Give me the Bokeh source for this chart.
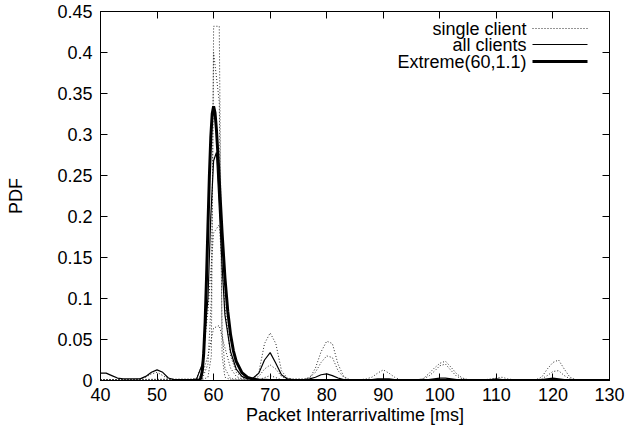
from bokeh.plotting import figure
from bokeh.models import (Range1d, FixedTicker, LinearAxis, Label, Arrow,
                          CustomJSTickFormatter)
from bokeh.embed import file_html
from bokeh.resources import INLINE

# ---- data -------------------------------------------------------------
# interarrival time grid [ms], one bin per millisecond
interarrival_ms = list(range(40, 131))

# per-client PDFs (drawn dotted); the two sharpest clients are given only
# at their break points
single_client_a_ms = [40, 58, 59, 59.6, 60, 61, 61.5, 62, 63, 130]
single_client_a = [0.001, 0.001, 0.004, 0.030, 0.432, 0.432, 0.030, 0.004,
                   0.001, 0.001]

single_client_b_ms = [40, 58, 59, 59.6, 60, 61, 61.5, 62, 63, 68, 70, 72, 130]
single_client_b = [0.001, 0.002, 0.020, 0.100, 0.400, 0.340, 0.060, 0.015,
                   0.002, 0.001, 0.006, 0.001, 0.001]

single_client_c = [
    0.001, 0.001, 0.001, 0.001, 0.001, 0.001, 0.001, 0.002, 0.004, 0.008,
    0.010, 0.006, 0.002, 0.001, 0.001, 0.001, 0.001, 0.003, 0.020, 0.085,
    0.180, 0.190, 0.090, 0.030, 0.010, 0.004, 0.002, 0.002, 0.005, 0.014,
    0.019, 0.014, 0.005, 0.002, 0.001, 0.001, 0.001, 0.003, 0.015, 0.035,
    0.048, 0.045, 0.020, 0.005, 0.001, 0.001, 0.001, 0.002, 0.004, 0.009,
    0.013, 0.009, 0.004, 0.001, 0.001, 0.001, 0.001, 0.002, 0.005, 0.011,
    0.018, 0.020, 0.012, 0.005, 0.002, 0.001, 0.001, 0.001, 0.001, 0.001,
    0.001, 0.001, 0.001, 0.001, 0.001, 0.001, 0.001, 0.001, 0.002, 0.006,
    0.011, 0.012, 0.006, 0.002, 0.001, 0.001, 0.001, 0.001, 0.001, 0.001,
    0.001,
]
single_client_d = [
    0.001, 0.001, 0.001, 0.001, 0.001, 0.001, 0.001, 0.001, 0.001, 0.001,
    0.001, 0.001, 0.001, 0.001, 0.001, 0.001, 0.001, 0.002, 0.007, 0.030,
    0.064, 0.067, 0.040, 0.015, 0.005, 0.002, 0.002, 0.003, 0.010, 0.045,
    0.058, 0.045, 0.012, 0.003, 0.002, 0.002, 0.002, 0.004, 0.010, 0.022,
    0.030, 0.028, 0.012, 0.004, 0.001, 0.001, 0.001, 0.001, 0.001, 0.001,
    0.001, 0.001, 0.001, 0.001, 0.001, 0.001, 0.001, 0.002, 0.008, 0.015,
    0.021, 0.0235, 0.016, 0.008, 0.003, 0.001, 0.001, 0.001, 0.001, 0.002,
    0.003, 0.004, 0.002, 0.001, 0.001, 0.001, 0.001, 0.001, 0.004, 0.014,
    0.022, 0.025, 0.014, 0.004, 0.001, 0.001, 0.001, 0.001, 0.001, 0.001,
    0.001,
]

# aggregate PDF over all clients (thin solid), half-ms bins around 60 ms
all_clients_ms = (list(range(40, 59)) + [59, 59.5, 60, 60.5, 61, 61.5]
                  + list(range(62, 131)))
all_clients = [
    0.009, 0.009, 0.006, 0.003, 0.002, 0.002, 0.002, 0.002, 0.005, 0.010,
    0.013, 0.010, 0.003, 0.001, 0.000, 0.000, 0.000, 0.002, 0.020,
    0.100, 0.200, 0.268, 0.278, 0.210, 0.140,
    0.080, 0.035, 0.014, 0.005, 0.002, 0.003, 0.009, 0.025,
    0.034, 0.021, 0.007, 0.002, 0.001, 0.001, 0.001, 0.002, 0.004, 0.007,
    0.008, 0.006, 0.003, 0.001, 0.001, 0.001, 0.001, 0.001, 0.001, 0.002,
    0.002, 0.002, 0.001, 0.001, 0.001, 0.001, 0.001, 0.001, 0.001, 0.002,
    0.003, 0.003, 0.002, 0.001, 0.001, 0.001, 0.001, 0.001, 0.001, 0.001,
    0.002, 0.001, 0.001, 0.001, 0.001, 0.001, 0.001, 0.001, 0.001, 0.002,
    0.003, 0.002, 0.001, 0.001, 0.001, 0.000, 0.000, 0.000, 0.000, 0.000,
    0.000,
]

# fitted extreme value density, Extreme(60,1.1) (thick solid)
extreme_ms = [52.6, 54, 56, 57, 57.5, 57.75, 58, 58.25, 58.5, 58.75, 59,
              59.25, 59.5, 59.75, 60, 60.25, 60.5, 60.75, 61, 61.25, 61.5,
              62, 62.5, 63, 63.5, 64, 65, 66, 67, 68, 70, 75, 130]
extreme_pdf = [0.0, 0.0, 0.0, 0.000003, 0.00053, 0.0031, 0.0118, 0.0330,
               0.0712, 0.1256, 0.1886, 0.2488, 0.2964, 0.3253, 0.3344,
               0.3265, 0.3059, 0.2773, 0.2448, 0.2117, 0.1801, 0.1255,
               0.0845, 0.0557, 0.0362, 0.0233, 0.0096, 0.0039, 0.0016,
               0.0006, 0.0001, 0.0, 0.0]

x_ticks = [40, 50, 60, 70, 80, 90, 100, 110, 120, 130]
y_ticks = [0, 0.05, 0.1, 0.15, 0.2, 0.25, 0.3, 0.35, 0.4, 0.45]
y_tick_labels = ["0", "0.05", "0.1", "0.15", "0.2", "0.25", "0.3", "0.35",
                 "0.4", "0.45"]

legend_labels = ["single client", "all clients", "Extreme(60,1.1)"]

# ---- styling ------------------------------------------------------------
FONT = "Liberation Sans"
FS = "18px"
DOT = "1 2"
DOT_COLOR = "#2a2a2a"

p = figure(width=626, height=438, output_backend="svg", toolbar_location=None,
           x_range=Range1d(40, 130), y_range=Range1d(0, 0.45),
           min_border_left=100, min_border_right=17,
           min_border_top=11, min_border_bottom=58)
p.grid.visible = False
p.outline_line_color = "black"
p.outline_line_width = 1
p.background_fill_color = "white"
p.border_fill_color = "white"

xa = p.xaxis[0]
xa.ticker = FixedTicker(ticks=x_ticks)
xa.axis_label = "Packet Interarrivaltime [ms]"
xa.major_label_standoff = 7
xa.axis_label_standoff = 1

ya = p.yaxis[0]
ya.ticker = FixedTicker(ticks=y_ticks)
ya.formatter = CustomJSTickFormatter(
    args=dict(tick_vals=y_ticks, tick_texts=y_tick_labels), code="""
    let best = 0;
    for (let i = 0; i < tick_vals.length; i++)
        if (Math.abs(tick_vals[i] - tick) < Math.abs(tick_vals[best] - tick)) best = i;
    return tick_texts[best];
""")
ya.axis_label = "PDF"
ya.major_label_standoff = 8
ya.axis_label_standoff = 28

# mirrored tick marks on the top and right edges, without labels
blank = CustomJSTickFormatter(code="return '';")
top_axis = LinearAxis(ticker=FixedTicker(ticks=x_ticks), formatter=blank)
right_axis = LinearAxis(ticker=FixedTicker(ticks=y_ticks), formatter=blank)
p.add_layout(top_axis, "above")
p.add_layout(right_axis, "right")

for ax in (xa, ya, top_axis, right_axis):
    ax.major_tick_in = 7
    ax.major_tick_out = 0
    ax.minor_tick_line_color = None
    ax.axis_line_color = "black"
    ax.major_tick_line_color = "black"
    ax.major_label_text_font = FONT
    ax.major_label_text_font_size = FS
    ax.major_label_text_color = "black"
    ax.axis_label_text_font = FONT
    ax.axis_label_text_font_size = FS
    ax.axis_label_text_font_style = "normal"
    ax.axis_label_text_color = "black"
for ax in (top_axis, right_axis):
    ax.major_label_standoff = 0

# ---- curves -------------------------------------------------------------
dotted_curves = [(single_client_a_ms, single_client_a),
                 (single_client_b_ms, single_client_b),
                 (interarrival_ms, single_client_c),
                 (interarrival_ms, single_client_d)]
for xs, ys in dotted_curves:
    p.line(xs, ys, line_color=DOT_COLOR, line_width=1, line_dash=DOT)
p.line(all_clients_ms, all_clients, line_color="black", line_width=1.2)
p.line(extreme_ms, extreme_pdf, line_color="black", line_width=3)

# ---- key (text on the left, line sample on the right) --------------------
key_rows = [352, 336, 319]
key_styles = [dict(line_color=DOT_COLOR, line_width=1, line_dash=DOT),
              dict(line_color="black", line_width=1.2),
              dict(line_color="black", line_width=3)]
for text, row, style in zip(legend_labels, key_rows, key_styles):
    p.add_layout(Label(x=426, y=row, x_units="screen", y_units="screen",
                       text=text, text_align="right", text_baseline="middle",
                       text_font=FONT, text_font_size=FS, text_color="black"))
    p.add_layout(Arrow(start=None, end=None, x_start=432, y_start=row,
                       x_end=487, y_end=row, start_units="screen",
                       end_units="screen", **style))

open("out.html", "w").write(file_html(p, INLINE))
